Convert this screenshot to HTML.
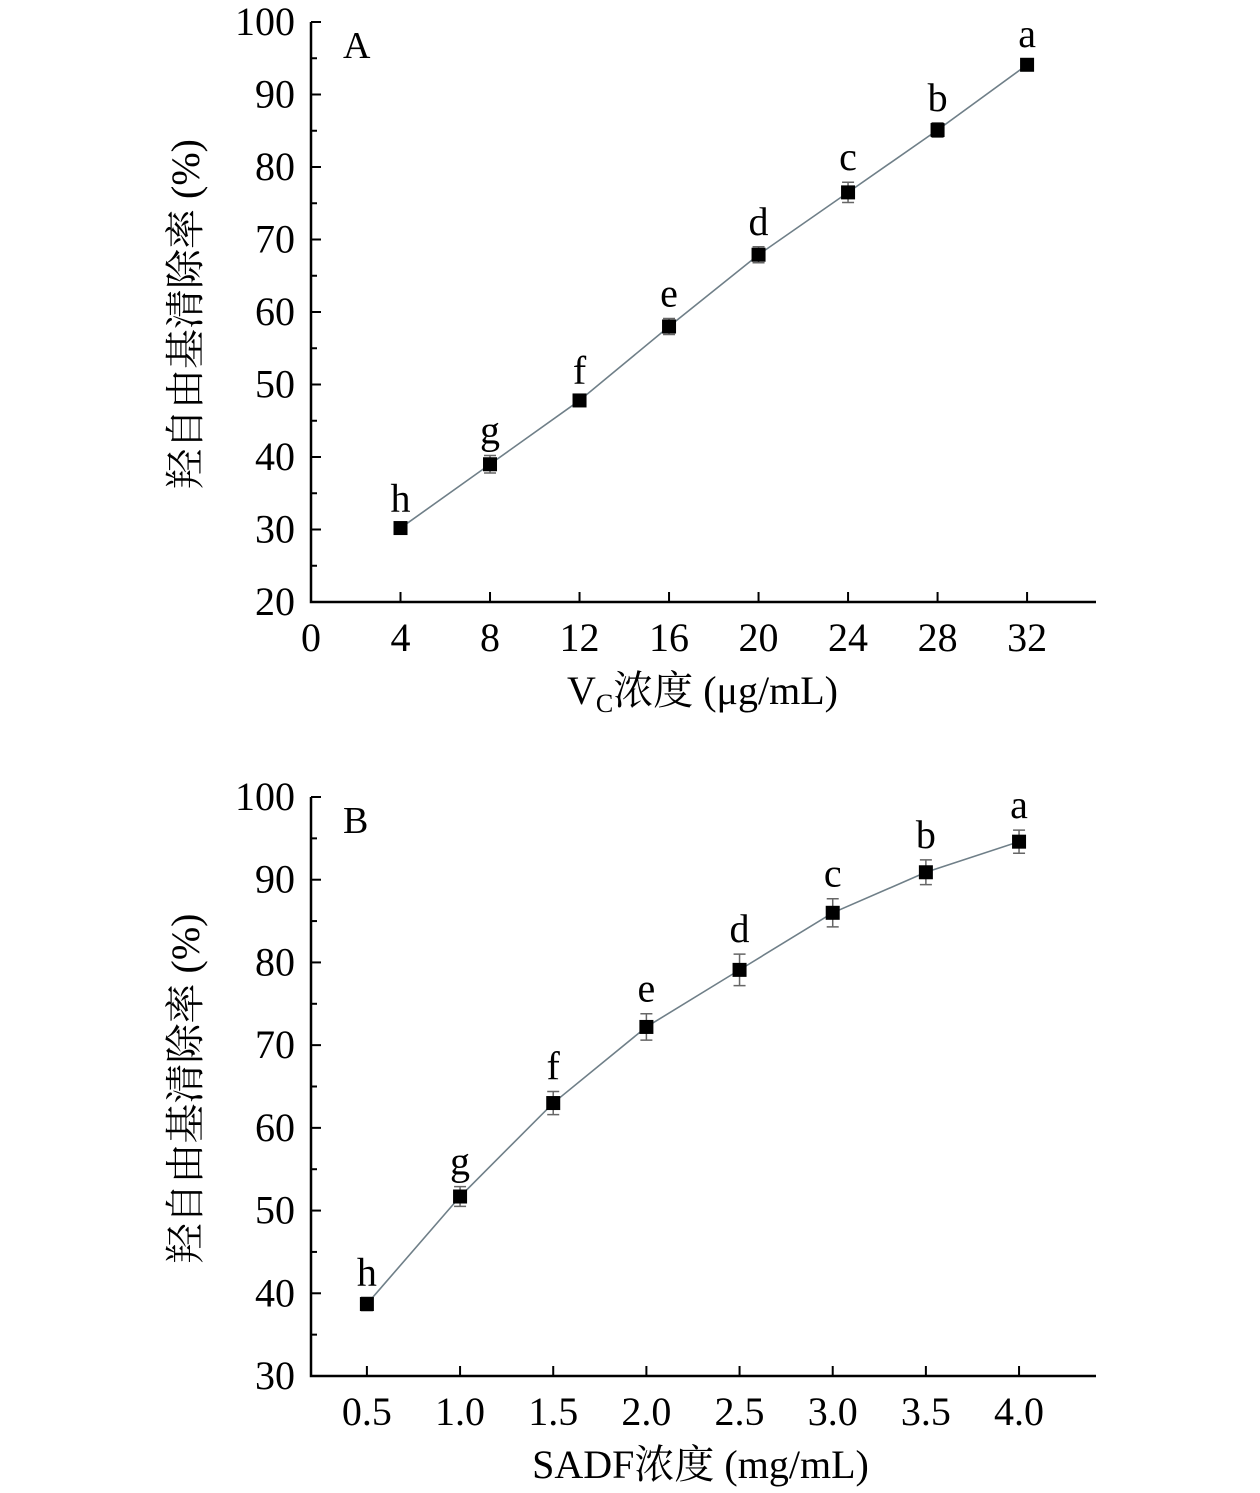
<!DOCTYPE html>
<html><head><meta charset="utf-8"><style>
html,body{margin:0;padding:0;background:#fff}
svg{display:block}
text{font-family:"Liberation Serif","Noto Serif CJK SC",serif;fill:#000}
</style></head><body>
<svg id="chart" width="1260" height="1493" viewBox="0 0 1260 1493" xmlns="http://www.w3.org/2000/svg"></svg>
<script>
const catsA=[4,8,12,16,20,24,28,32];
const valsA=[30.2,39,47.8,58,67.9,76.5,85.1,94.1];
const errA=[0.6,1.2,0.6,1.1,1.1,1.4,1.0,0.8];
const lettersA=['h','g','f','e','d','c','b','a'];
const xTicksA=['0','4','8','12','16','20','24','28','32'];
const yTicksA=['20','30','40','50','60','70','80','90','100'];
const catsB=[0.5,1.0,1.5,2.0,2.5,3.0,3.5,4.0];
const valsB=[38.7,51.7,63,72.2,79.1,86,90.9,94.6];
const errB=[0.8,1.2,1.4,1.6,1.9,1.7,1.5,1.4];
const lettersB=['h','g','f','e','d','c','b','a'];
const xTicksB=['0.5','1.0','1.5','2.0','2.5','3.0','3.5','4.0'];
const yTicksB=['30','40','50','60','70','80','90','100'];

const svg=document.getElementById('chart');
const NS='http://www.w3.org/2000/svg';
function mk(tag,attrs,parent){const e=document.createElementNS(NS,tag);for(const k in attrs)e.setAttribute(k,attrs[k]);(parent||svg).appendChild(e);return e;}

function panel(o){
  const g=mk('g',{});
  
  
  const X=v=>o.x0+(v-o.xmin)/(o.xmax-o.xmin)*(o.x1-o.x0);
  const Y=v=>o.y1-(v-o.ymin)/(o.ymax-o.ymin)*(o.y1-o.y0);
  const ax=mk('path',{d:`M${o.x0} ${o.y0}V${o.y1}H${o.x1}`,stroke:'#000','stroke-width':2.5,fill:'none'},g);
  
  
  o.yt.forEach((t,i)=>{const v=+t,y=Y(v);
    mk('line',{x1:o.x0,x2:o.x0+10,y1:y,y2:y,stroke:'#000','stroke-width':2},g);
    if(i<o.yt.length-1){const ym=Y(v+o.ystep/2);mk('line',{x1:o.x0,x2:o.x0+6,y1:ym,y2:ym,stroke:'#000','stroke-width':2},g);}
    const tx=mk('text',{x:o.x0-16,y:y+13,'text-anchor':'end','font-size':40},g);tx.textContent=t;
    
    
  });
  o.xt.forEach(t=>{const x=X(+t);
    mk('line',{x1:x,x2:x,y1:o.y1,y2:o.y1-10,stroke:'#000','stroke-width':2},g);
    const tx=mk('text',{x:x,y:o.y1+49,'text-anchor':'middle','font-size':40},g);tx.textContent=t;
    
    
  });
  const pts=o.cats.map((c,i)=>X(c)+','+Y(o.vals[i])).join(' ');
  const line=mk('polyline',{points:pts,fill:'none',stroke:'#6f7f88','stroke-width':1.6},g);
  
  
  o.cats.forEach((c,i)=>{const x=X(c),y=Y(o.vals[i]),yh=Y(o.vals[i]+o.err[i]),yl=Y(o.vals[i]-o.err[i]);
    mk('path',{d:`M${x} ${yh}V${yl}M${x-6} ${yh}H${x+6}M${x-6} ${yl}H${x+6}`,stroke:'#666','stroke-width':1.5,fill:'none'},g);
    const r=mk('rect',{x:x-7,y:y-7,width:14,height:14,fill:'#000'},g);
    
    
    const l=mk('text',{x:x,y:yh-12,'text-anchor':'middle','font-size':40},g);l.textContent=o.letters[i];
    
    
  });
  const pl=mk('text',{x:o.x0+32,y:o.y0+36,'font-size':38},g);pl.textContent=o.label;
  
  
  const yt=mk('text',{transform:`translate(${o.x0-112},${(o.y0+o.y1)/2+2}) rotate(-90)`,'text-anchor':'middle','font-size':40},g);
  yt.textContent='羟自由基清除率 (%)';
  
  
  const xt=mk('text',{x:(o.x0+o.x1)/2+(o.xoff||0),y:o.y1+102,'text-anchor':'middle','font-size':40},g);
  xt.innerHTML=o.xtitle;
  
  
}
panel({name:'panel-a',label:'A',x0:311,x1:1096,y0:22,y1:602,xmin:0,xmax:35.08,ymin:20,ymax:100,ystep:10,
  cats:catsA,vals:valsA,err:errA,letters:lettersA,xt:xTicksA,yt:yTicksA,xoff:-1,
  xtitle:'V<tspan font-size="26" dy="8">C</tspan><tspan dy="-8">浓度 (μg/mL)</tspan>'});
panel({name:'panel-b',label:'B',x0:311,x1:1096,y0:797,y1:1376,xmin:0.2,xmax:4.413,ymin:30,ymax:100,ystep:10,
  cats:catsB,vals:valsB,err:errB,letters:lettersB,xt:xTicksB,yt:yTicksB,xoff:-3,
  xtitle:'SADF浓度 (mg/mL)'});
</script>
</body></html>
